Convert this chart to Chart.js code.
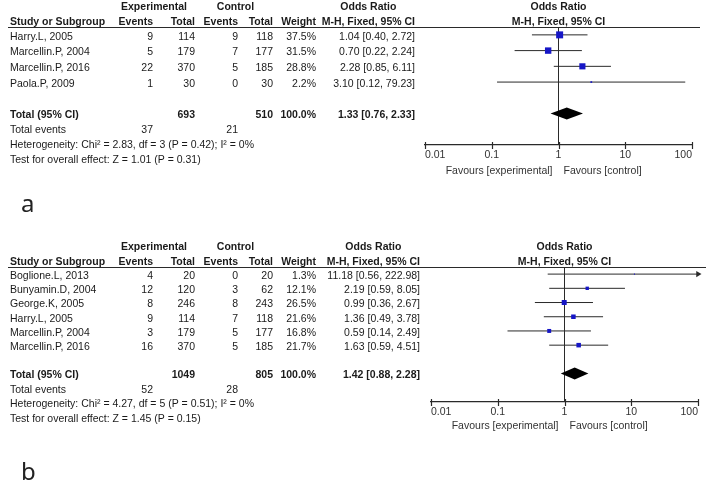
<!DOCTYPE html>
<html>
<head>
<meta charset="utf-8">
<script src="https://cdn.jsdelivr.net/npm/chart.js@4/dist/chart.umd.min.js"></script>
<style>
  body { margin: 0; background: #fff; }
  #wrap { position: relative; width: 708px; height: 484px; }
  canvas { position: absolute; left: 0; }
</style>
</head>
<body>
<div id="wrap">
  <canvas id="panelA" width="708" height="240" style="top:0"></canvas>
  <canvas id="panelB" width="708" height="244" style="top:240px"></canvas>
</div>
<script>
// ---- panel a data ----
const studiesA   = ['Harry.L, 2005', 'Marcellin.P, 2004', 'Marcellin.P, 2016', 'Paola.P, 2009'];
const expEventsA = [9, 5, 22, 1];
const expTotalA  = [114, 179, 370, 30];
const ctlEventsA = [9, 7, 5, 0];
const ctlTotalA  = [118, 177, 185, 30];
const weightA    = [37.5, 31.5, 28.8, 2.2];
const orA        = [1.04, 0.70, 2.28, 3.10];
const loA        = [0.40, 0.22, 0.85, 0.12];
const hiA        = [2.72, 2.24, 6.11, 79.23];
const totalA     = { exp: 693, ctl: 510, or: 1.33, lo: 0.76, hi: 2.33, expEv: 37, ctlEv: 21 };
const hetA       = 'Heterogeneity: Chi\u00b2 = 2.83, df = 3 (P = 0.42); I\u00b2 = 0%';
const testA      = 'Test for overall effect: Z = 1.01 (P = 0.31)';

// ---- panel b data ----
const studiesB   = ['Boglione.L, 2013', 'Bunyamin.D, 2004', 'George.K, 2005', 'Harry.L, 2005', 'Marcellin.P, 2004', 'Marcellin.P, 2016'];
const expEventsB = [4, 12, 8, 9, 3, 16];
const expTotalB  = [20, 120, 246, 114, 179, 370];
const ctlEventsB = [0, 3, 8, 7, 5, 5];
const ctlTotalB  = [20, 62, 243, 118, 177, 185];
const weightB    = [1.3, 12.1, 26.5, 21.6, 16.8, 21.7];
const orB        = [11.18, 2.19, 0.99, 1.36, 0.59, 1.63];
const loB        = [0.56, 0.59, 0.36, 0.49, 0.14, 0.59];
const hiB        = [222.98, 8.05, 2.67, 3.78, 2.49, 4.51];
const totalB     = { exp: 1049, ctl: 805, or: 1.42, lo: 0.88, hi: 2.28, expEv: 52, ctlEv: 28 };
const hetB       = 'Heterogeneity: Chi\u00b2 = 4.27, df = 5 (P = 0.51); I\u00b2 = 0%';
const testB      = 'Test for overall effect: Z = 1.45 (P = 0.15)';

// axis
const xTicks      = [0.01, 0.1, 1, 10, 100];
const xTickLabels = ['0.01', '0.1', '1', '10', '100'];

const FONT = '"Liberation Sans", Arial, sans-serif';
const FS = 10.5;
const TXT = '#1a1a1a';
const LINE = '#2a2a2a';

// column right edges (table layout)
const cols = { name: 10, expEv: 153, expTot: 195, ctlEv: 238, ctlTot: 273, weight: 316 };

function fmtCI(o, l, h) {
  return o.toFixed(2) + ' [' + l.toFixed(2) + ', ' + h.toFixed(2) + ']';
}

function tablePlugin(p) {
  return {
    id: 'table',
    afterDatasetsDraw(chart) {
      // summary diamond
      const ctx = chart.ctx, xs = chart.scales.x, ys = chart.scales.y;
      const n = p.studies.length;
      const y = ys.getPixelForValue(n + 1);
      ctx.save();
      ctx.fillStyle = '#000';
      ctx.beginPath();
      ctx.moveTo(xs.getPixelForValue(p.total.lo), y);
      ctx.lineTo(xs.getPixelForValue(p.total.or), y - 6);
      ctx.lineTo(xs.getPixelForValue(p.total.hi), y);
      ctx.lineTo(xs.getPixelForValue(p.total.or), y + 6);
      ctx.closePath();
      ctx.fill();
      ctx.restore();
    },
    afterDraw(chart) {
      const ctx = chart.ctx, xs = chart.scales.x, ys = chart.scales.y;
      const top = chart.chartArea.top, bottom = chart.chartArea.bottom;
      const one = xs.getPixelForValue(1);
      const n = p.studies.length;
      ctx.save();
      ctx.textBaseline = 'middle';
      const txt = (s, x, y, align, bold, color) => {
        ctx.font = (bold ? 'bold ' : '') + FS + 'px ' + FONT;
        ctx.fillStyle = color || TXT;
        ctx.textAlign = align;
        ctx.fillText(s, x, y);
      };

      // header
      const h1 = top - 20, h2 = top - 5;
      txt('Experimental', (cols.expEv + cols.expTot) / 2 - 20, h1, 'center', true);
      txt('Control', (cols.ctlEv + cols.ctlTot) / 2 - 20, h1, 'center', true);
      ctx.font = 'bold ' + FS + 'px ' + FONT;
      const mhW = ctx.measureText('M-H, Fixed, 95% CI').width;
      txt('Odds Ratio', p.orRight - mhW / 2, h1, 'center', true);
      txt('Odds Ratio', one, h1, 'center', true);
      txt('Study or Subgroup', cols.name, h2, 'left', true);
      txt('Events', cols.expEv, h2, 'right', true);
      txt('Total', cols.expTot, h2, 'right', true);
      txt('Events', cols.ctlEv, h2, 'right', true);
      txt('Total', cols.ctlTot, h2, 'right', true);
      txt('Weight', cols.weight, h2, 'right', true);
      txt('M-H, Fixed, 95% CI', p.orRight, h2, 'right', true);
      txt('M-H, Fixed, 95% CI', one, h2, 'center', true);

      ctx.strokeStyle = LINE;
      ctx.lineWidth = 1;
      ctx.beginPath();
      ctx.moveTo(8, top + 0.5);
      ctx.lineTo(p.plotRight + 8, top + 0.5);
      ctx.stroke();

      // study rows
      p.studies.forEach((s, i) => {
        const y = ys.getPixelForValue(i) + 2;
        txt(s, cols.name, y, 'left');
        txt(String(p.expEvents[i]), cols.expEv, y, 'right');
        txt(String(p.expTotal[i]), cols.expTot, y, 'right');
        txt(String(p.ctlEvents[i]), cols.ctlEv, y, 'right');
        txt(String(p.ctlTotal[i]), cols.ctlTot, y, 'right');
        txt(p.weight[i].toFixed(1) + '%', cols.weight, y, 'right');
        txt(fmtCI(p.or[i], p.lo[i], p.hi[i]), p.orRight, y, 'right');
      });

      // total + footer
      const ty = ys.getPixelForValue(n + 1) + 2;
      txt('Total (95% CI)', cols.name, ty, 'left', true);
      txt(String(p.total.exp), cols.expTot, ty, 'right', true);
      txt(String(p.total.ctl), cols.ctlTot, ty, 'right', true);
      txt('100.0%', cols.weight, ty, 'right', true);
      txt(fmtCI(p.total.or, p.total.lo, p.total.hi), p.orRight, ty, 'right', true);
      txt('Total events', cols.name, ty + p.lineGap, 'left');
      txt(String(p.total.expEv), cols.expEv, ty + p.lineGap, 'right');
      txt(String(p.total.ctlEv), cols.ctlEv, ty + p.lineGap, 'right');
      txt(p.het, cols.name, ty + p.lineGap * 2, 'left');
      txt(p.test, cols.name, ty + p.lineGap * 3, 'left');

      // tick marks across the axis line
      ctx.strokeStyle = LINE;
      ctx.lineWidth = 1.2;
      xs.ticks.forEach(t => {
        const x = Math.round(xs.getPixelForValue(t.value)) + 0.5;
        ctx.beginPath();
        ctx.moveTo(x, bottom - 3);
        ctx.lineTo(x, bottom + 4);
        ctx.stroke();
      });

      // favours labels
      const fy = bottom + p.favGap;
      txt('Favours [experimental]', one - 6, fy, 'right', false, '#333');
      txt('Favours [control]', one + 5, fy, 'left', false, '#333');

      // panel letter
      ctx.font = '24px "Noto Sans", "DejaVu Sans", sans-serif';
      ctx.fillStyle = '#222';
      ctx.textAlign = 'left';
      ctx.textBaseline = 'alphabetic';
      ctx.fillText(p.letter, 21, p.letterY);
      ctx.restore();
    }
  };
}

function buildPanel(id, p) {
  const n = p.studies.length;
  const canvas = document.getElementById(id);
  const xMax = xTicks[xTicks.length - 1];
  const maxW = Math.max(...p.weight);

  const ciSets = p.lo.map((lo, i) => ({
    data: [{ x: lo, y: i }, { x: Math.min(p.hi[i], xMax), y: i }],
    showLine: true,
    borderColor: LINE,
    borderWidth: 1,
    pointRadius: 0,
    order: 2,
    clip: false
  }));
  const arrows = [];
  p.hi.forEach((h, i) => { if (h > xMax) arrows.push({ x: xMax, y: i }); });

  new Chart(canvas, {
    type: 'scatter',
    data: {
      datasets: [
        {
          data: p.or.map((v, i) => ({ x: v, y: i })),
          pointStyle: 'rect',
          pointRadius: p.weight.map(w => Math.max(0.8, p.maxSide * Math.sqrt(w / maxW) / Math.SQRT2)),
          backgroundColor: '#1616c6',
          borderWidth: 0,
          order: 0,
          clip: false
        },
        {
          data: arrows,
          pointStyle: 'triangle',
          rotation: 90,
          pointRadius: 3.5,
          backgroundColor: LINE,
          borderWidth: 0,
          order: 1,
          clip: false
        },
        ...ciSets
      ]
    },
    options: {
      responsive: false,
      animation: false,
      devicePixelRatio: 1,
      layout: {
        padding: {
          left: p.plotLeft,
          right: 708 - p.plotRight,
          top: 27,
          bottom: canvas.height - p.axisY - 30
        }
      },
      plugins: { legend: { display: false }, tooltip: { enabled: false } },
      scales: {
        x: {
          type: 'logarithmic',
          min: xTicks[0],
          max: xMax,
          afterBuildTicks: s => { s.ticks = xTicks.map(v => ({ value: v })); },
          afterFit: s => { s.height = 30; },
          ticks: {
            callback: (v, i) => xTickLabels[i],
            align: 'inner',
            padding: 4,
            color: '#333',
            autoSkip: false,
            maxRotation: 0,
            font: { family: FONT, size: FS }
          },
          grid: {
            drawTicks: false,
            color: c => (c.tick && c.tick.value === 1) ? LINE : 'rgba(0,0,0,0)',
            lineWidth: 1
          },
          border: { display: true, color: LINE, width: 1.2 }
        },
        y: { type: 'linear', reverse: true, min: -0.5, max: n + 3, display: false }
      }
    },
    plugins: [tablePlugin(p)]
  });
}

buildPanel('panelA', {
  studies: studiesA, expEvents: expEventsA, expTotal: expTotalA, ctlEvents: ctlEventsA, ctlTotal: ctlTotalA,
  weight: weightA, or: orA, lo: loA, hi: hiA, total: totalA, het: hetA, test: testA,
  plotLeft: 425, plotRight: 692, axisY: 145, orRight: 415, maxSide: 7, lineGap: 15, favGap: 26,
  letter: 'a', letterY: 212
});
buildPanel('panelB', {
  studies: studiesB, expEvents: expEventsB, expTotal: expTotalB, ctlEvents: ctlEventsB, ctlTotal: ctlTotalB,
  weight: weightB, or: orB, lo: loB, hi: hiB, total: totalB, het: hetB, test: testB,
  plotLeft: 431, plotRight: 698, axisY: 162, orRight: 420, maxSide: 5, lineGap: 14.5, favGap: 24,
  letter: 'b', letterY: 240
});
</script>
</body>
</html>
